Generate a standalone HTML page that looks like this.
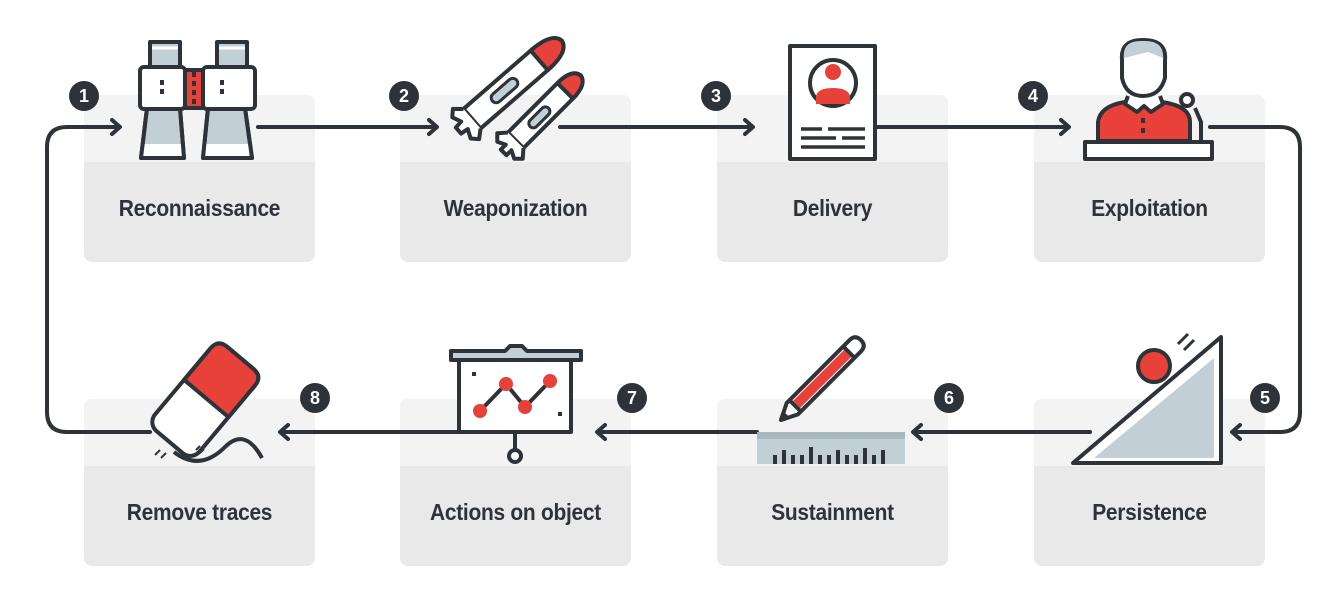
<!DOCTYPE html>
<html><head><meta charset="utf-8"><style>
html,body{margin:0;padding:0;background:#fff;}
body{width:1342px;height:608px;overflow:hidden;position:relative;font-family:"Liberation Sans",sans-serif;}
.card{position:absolute;width:231px;height:167px;border-radius:8px;background:#e9e9e9;overflow:hidden;}
.card .top{position:absolute;left:0;top:0;right:0;height:67px;background:#f3f3f3;}
.card .lbl{position:absolute;left:-40px;right:-40px;top:100px;text-align:center;font-weight:bold;font-size:23px;color:#2d3339;transform:scaleX(0.91);letter-spacing:-0.3px;}
svg{position:absolute;left:0;top:0;}
</style></head><body>
<div class="card" style="left:84px;top:95px"><div class="top"></div><div class="lbl">Reconnaissance</div></div>
<div class="card" style="left:400px;top:95px"><div class="top"></div><div class="lbl">Weaponization</div></div>
<div class="card" style="left:717px;top:95px"><div class="top"></div><div class="lbl">Delivery</div></div>
<div class="card" style="left:1034px;top:95px"><div class="top"></div><div class="lbl">Exploitation</div></div>
<div class="card" style="left:84px;top:399px"><div class="top"></div><div class="lbl">Remove traces</div></div>
<div class="card" style="left:400px;top:399px"><div class="top"></div><div class="lbl">Actions on object</div></div>
<div class="card" style="left:717px;top:399px"><div class="top"></div><div class="lbl">Sustainment</div></div>
<div class="card" style="left:1034px;top:399px"><div class="top"></div><div class="lbl">Persistence</div></div>
<svg width="1342" height="608" viewBox="0 0 1342 608">
<g fill="none" stroke="#2d3339" stroke-width="4" stroke-linecap="round" stroke-linejoin="round">
<path d="M118 127 H67 Q47 127 47 147 V412 Q47 432 67 432 H150"/>
<path d="M258 127 H434 M560 127 H750 M876 127 H1066 M1210 127 H1280 Q1300 127 1300 147 V412 Q1300 432 1280 432 H1233"/>
<path d="M1090 432 H914 M757 432 H598 M458 432 H281"/>
<path d="M112 120 L120 127 L112 134 M429 120 L437 127 L429 134 M745 120 L753 127 L745 134 M1061 120 L1069 127 L1061 134"/>
<path d="M288 425 L280 432 L288 439 M605 425 L597 432 L605 439 M921 425 L913 432 L921 439 M1240 425 L1232 432 L1240 439"/>
</g>
<g fill="#2d3339"><circle cx="84" cy="96" r="15"/><circle cx="404" cy="96" r="15"/><circle cx="716" cy="96" r="15"/><circle cx="1033" cy="96" r="15"/>
<circle cx="315" cy="398" r="15"/><circle cx="632" cy="398" r="15"/><circle cx="949" cy="398" r="15"/><circle cx="1265" cy="398" r="15"/></g>
<g fill="#fff" font-family="Liberation Sans, sans-serif" font-weight="bold" font-size="18" text-anchor="middle">
<text x="84" y="102">1</text><text x="404" y="102">2</text><text x="716" y="102">3</text><text x="1033" y="102">4</text>
<text x="315" y="404">8</text><text x="632" y="404">7</text><text x="949" y="404">6</text><text x="1265" y="404">5</text></g>
<g stroke="#2d3339" stroke-width="4" stroke-linejoin="round">
<rect x="150" y="42" width="30" height="26" fill="#c3cfd6"/><rect x="217" y="42" width="30" height="26" fill="#c3cfd6"/>
<path d="M152 48 H178 M219 48 H245" stroke="#fff" stroke-width="3"/>
<path d="M147 108 L141 158 H184 L180 108 Z" fill="#c3cfd6"/>
<path d="M208 108 L203 158 H252 L245 108 Z" fill="#c3cfd6"/>
<path d="M143 144 L141 158 H184 L183 144 Z M204 144 L203 158 H252 L250 144 Z" fill="#fff" stroke="none"/>
<path d="M147 108 L141 158 H184 L180 108 Z M208 108 L203 158 H252 L245 108 Z" fill="none"/>
<rect x="140" y="67" width="45" height="42" rx="4" fill="#fff"/><rect x="203" y="67" width="52" height="42" rx="4" fill="#fff"/>
<rect x="185" y="70" width="18" height="38" fill="#e8413a"/>
<path d="M194 72 V106 M162 80 V98 M222 80 V98" stroke-dasharray="5 4"/>
<g transform="translate(466,124) rotate(-41)">
<path d="M8 -13 H95 Q125 -13 127 0 Q125 13 95 13 H8 Z" fill="#fff"/>
<path d="M97 -13 Q125 -13 127 0 Q125 13 97 13 Z" fill="#e8413a"/>
<path d="M8 -13 L0 -20 L-6 -14 L-2 -5 L-10 -4 L-10 4 L-2 5 L-6 14 L0 20 L8 13" fill="#fff"/>
<rect x="35" y="-5" width="32" height="10" rx="5" fill="#c3cfd6" stroke-width="3"/>
</g>
<g transform="translate(510,146) rotate(-45)">
<path d="M8 -11 H75 Q98 -11 100 0 Q98 11 75 11 H8 Z" fill="#fff"/>
<path d="M78 -11 Q98 -11 100 0 Q98 11 78 11 Z" fill="#e8413a"/>
<path d="M8 -11 L0 -18 L-6 -12 L-2 -4 L-9 -4 L-9 4 L-2 4 L-6 12 L0 18 L8 11" fill="#fff"/>
<rect x="28" y="-4" width="26" height="9" rx="4.5" fill="#c3cfd6" stroke-width="3"/>
</g>
<rect x="790" y="46" width="85" height="113" fill="#fff"/>
<circle cx="833" cy="83" r="23" fill="#fff"/>
<path d="M801 129 H822 M828 129 H865 M801 138 H836 M842 138 H865 M801 147 H865" stroke-width="3.5"/>
<path d="M1098 141 V122 Q1100 106 1125 102 H1162 Q1190 106 1190 122 V141 Z" fill="#e8413a"/>
<path d="M1128 96 L1125 104 L1137 112 L1144 106 L1151 112 L1163 104 L1160 96" fill="#fff"/>
<path d="M1122 60 Q1120 40 1143 40 Q1167 40 1165 60 L1165 78 Q1160 96 1143 96 Q1126 96 1122 78 Z" fill="#fff"/>
<path d="M1124 58 Q1122 40 1143 41 Q1164 40 1163 58 L1148 52 Z" fill="#c3cfd6" stroke="none"/>
<path d="M1195 108 L1201 122 V141" fill="none"/><circle cx="1187" cy="100" r="6" fill="#fff"/>
<rect x="1085" y="142" width="127" height="17" fill="#fff"/>
<rect x="459" y="360" width="112" height="72" fill="#fff"/>
<path d="M451 351 H505 L510 346 H522 L527 351 H581 V360 H451 Z" fill="#c3cfd6"/>
<path d="M515 432 V450" fill="none"/><circle cx="515" cy="456" r="6" fill="#fff"/>
<path d="M480 411 L506 384 L525 407 L550 381" fill="none"/>
<g transform="translate(781,420) rotate(-45)">
<path d="M16 -8 H105 Q113 -8 113 0 Q113 8 105 8 H16 L0 0 Z" fill="#fff"/>
<rect x="22" y="-5" width="72" height="10" fill="#e8413a" stroke="none"/>
<path d="M20 -8 V8 M96 -8 V8 M0 0 L6 -3 V3 Z" fill="#2d3339"/>
</g>
<path d="M1073 463 L1221 337 V463 Z" fill="#fff"/>
<circle cx="1154" cy="366" r="16" fill="#e8413a"/>
<path d="M1178 344 L1188 334 M1184 350 L1194 340" stroke-width="3"/>
<path d="M174 452 Q200 472 225 447 Q245 427 262 458" fill="none"/>
<g transform="translate(205,400) rotate(40)">
<rect x="-29" y="-55" width="58" height="110" rx="12" fill="#fff"/>
<path d="M-29 -2 V-43 Q-29 -55 -17 -55 H17 Q29 -55 29 -43 V-2 Z" fill="#e8413a"/>
</g>
<path d="M155 455 L160 450 M161 458 L166 453 M196 450 L200 446 M200 453 L204 449" stroke-width="2"/>
</g>
<g fill="#e8413a">
<circle cx="833" cy="72" r="8"/><path d="M816 104 V96 Q818 88 833 88 Q848 88 850 96 V104 Z"/>
<circle cx="480" cy="411" r="7"/><circle cx="506" cy="384" r="7"/><circle cx="525" cy="407" r="7"/><circle cx="550" cy="381" r="7"/>
</g>
<g fill="#2d3339"><rect x="1141" y="118" width="4" height="5"/><rect x="1141" y="128" width="4" height="5"/>
<rect x="472" y="372" width="4" height="4"/><rect x="558" y="412" width="4" height="4"/></g>
<path d="M1094 458 L1214 358 L1214 458 Z" fill="#c3cfd6"/>
<path d="M1100 458 L1180 390 L1195 378 L1198 392 L1205 370 L1208 384 L1214 372 V458 Z" fill="#c3cfd6"/>
<rect x="757" y="432" width="148" height="32" fill="#c3cfd6"/>
<rect x="757" y="432" width="148" height="7" fill="#a9b8bf"/>
<g fill="#2d3339"><rect x="773" y="455" width="4" height="9"/><rect x="782" y="450" width="4" height="14"/><rect x="791" y="455" width="4" height="9"/><rect x="800" y="455" width="4" height="9"/><rect x="809" y="447" width="4" height="17"/><rect x="818" y="455" width="4" height="9"/><rect x="827" y="455" width="4" height="9"/><rect x="836" y="450" width="4" height="14"/><rect x="845" y="455" width="4" height="9"/><rect x="854" y="455" width="4" height="9"/><rect x="863" y="448" width="4" height="16"/><rect x="872" y="455" width="4" height="9"/><rect x="881" y="450" width="4" height="14"/></g>
</svg>
</body></html>
